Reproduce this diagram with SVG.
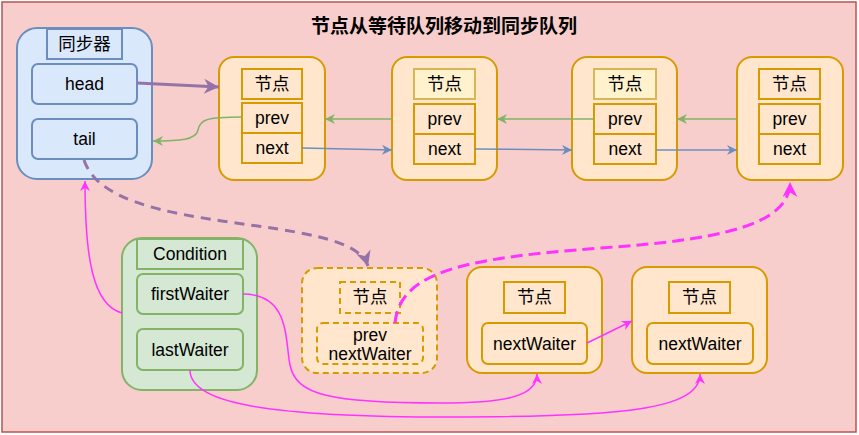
<svg xmlns="http://www.w3.org/2000/svg" width="859" height="435" viewBox="0 0 859 435">
<style>
text{font-family:"Liberation Sans",Arial,"Noto Sans CJK SC",sans-serif;font-size:17.5px;fill:#000;text-anchor:middle;dominant-baseline:central}
.title{font-size:19px;font-weight:bold}
.blue{fill:#dae8fc;stroke:#6c8ebf;stroke-width:2}
.green{fill:#d5e8d4;stroke:#82b366;stroke-width:2}
.org{fill:#ffe6cc;stroke:#d79b00;stroke-width:2}
.yel{fill:#fff2cc;stroke:#d6b656;stroke-width:2}
.dash{stroke-dasharray:6 4}
.e{fill:none}
</style>
<defs>
<marker id="mg" viewBox="0 0 10 10" refX="10" refY="5" markerWidth="13" markerHeight="10" markerUnits="userSpaceOnUse" orient="auto"><path d="M0,0 L10,5 L0,10 L3,5 z" fill="#82b366"/></marker>
<marker id="mb" viewBox="0 0 10 10" refX="10" refY="5" markerWidth="13" markerHeight="10" markerUnits="userSpaceOnUse" orient="auto"><path d="M0,0 L10,5 L0,10 L3,5 z" fill="#6c8ebf"/></marker>
<marker id="mp" viewBox="0 0 10 10" refX="10" refY="5" markerWidth="19" markerHeight="15" markerUnits="userSpaceOnUse" orient="auto"><path d="M0,0 L10,5 L0,10 L3,5 z" fill="#9673a6"/></marker>
<marker id="mm" viewBox="0 0 10 10" refX="10" refY="5" markerWidth="13" markerHeight="10" markerUnits="userSpaceOnUse" orient="auto"><path d="M0,0 L10,5 L0,10 L3,5 z" fill="#ff33ff"/></marker>
<marker id="mm2" viewBox="0 0 10 10" refX="10" refY="5" markerWidth="18" markerHeight="15" markerUnits="userSpaceOnUse" orient="auto"><path d="M0,0 L10,5 L0,10 L3,5 z" fill="#ff33ff"/></marker>
</defs>
<rect x="0" y="0" width="859" height="435" fill="#ffffff"/>
<rect x="2" y="2" width="854" height="430" fill="#f8cecc" stroke="#b85450" stroke-width="1.5"/>
<text class="title" x="444" y="26">节点从等待队列移动到同步队列</text>

<g id="sync">
<rect class="blue" x="17" y="28" width="135" height="151" rx="20"/>
<rect class="blue" x="47" y="29" width="75" height="30"/>
<text x="84.5" y="44">同步器</text>
<rect class="blue" x="32" y="64" width="105" height="40" rx="6"/>
<text x="84.5" y="84">head</text>
<rect class="blue" x="32" y="119" width="105" height="40" rx="6"/>
<text x="84.5" y="139">tail</text>
</g>

<g id="node1">
<rect class="org" x="219" y="57" width="106" height="123" rx="15"/>
<rect class="org" x="242" y="69" width="60" height="30"/>
<text x="272" y="84">节点</text>
<rect class="org" x="242" y="103" width="60" height="30"/>
<text x="272" y="118">prev</text>
<rect class="org" x="242" y="133" width="60" height="30"/>
<text x="272" y="148">next</text>
</g>
<g id="node2">
<rect class="org" x="392" y="57" width="105" height="123" rx="15"/>
<rect class="yel" x="414" y="69" width="61" height="30"/>
<text x="444.5" y="84">节点</text>
<rect class="org" x="414" y="104" width="61" height="30"/>
<text x="444.5" y="119">prev</text>
<rect class="org" x="414" y="134" width="61" height="30"/>
<text x="444.5" y="149">next</text>
</g>
<g id="node3">
<rect class="org" x="572" y="57" width="105" height="123" rx="15"/>
<rect class="yel" x="594" y="69" width="62" height="30"/>
<text x="625" y="84">节点</text>
<rect class="org" x="594" y="104" width="62" height="30"/>
<text x="625" y="119">prev</text>
<rect class="org" x="594" y="134" width="62" height="30"/>
<text x="625" y="149">next</text>
</g>
<g id="node4">
<rect class="org" x="737" y="57" width="106" height="123" rx="15"/>
<rect class="org" x="759" y="69" width="61" height="30"/>
<text x="789.5" y="84">节点</text>
<rect class="org" x="759" y="104" width="61" height="30"/>
<text x="789.5" y="119">prev</text>
<rect class="org" x="759" y="134" width="61" height="30"/>
<text x="789.5" y="149">next</text>
</g>

<g id="condition">
<rect class="green" x="122" y="238" width="135" height="152" rx="20"/>
<rect class="green" x="137" y="239" width="106" height="30"/>
<text x="190" y="254">Condition</text>
<rect class="green" x="137" y="274" width="106" height="40" rx="6"/>
<text x="190" y="294">firstWaiter</text>
<rect class="green" x="137" y="329" width="106" height="41" rx="6"/>
<text x="190" y="350">lastWaiter</text>
</g>

<g id="movingNode">
<rect class="org dash" x="302" y="268" width="135" height="105" rx="15"/>
<rect class="org dash" x="340" y="282" width="60" height="31"/>
<text x="370" y="297">节点</text>
<rect class="org dash" x="317" y="323" width="106" height="41" rx="6"/>
<text x="370" y="335">prev</text>
<text x="370" y="354">nextWaiter</text>
</g>

<g id="waiter1">
<rect class="org" x="467" y="267" width="135" height="106" rx="15"/>
<rect class="org" x="504" y="282" width="61" height="31"/>
<text x="534.5" y="297">节点</text>
<rect class="org" x="482" y="323" width="105" height="41" rx="6"/>
<text x="534.5" y="344">nextWaiter</text>
</g>
<g id="waiter2">
<rect class="org" x="632" y="267" width="135" height="106" rx="15"/>
<rect class="org" x="669" y="282" width="61" height="31"/>
<text x="699.5" y="297">节点</text>
<rect class="org" x="647" y="323" width="106" height="41" rx="6"/>
<text x="700" y="344">nextWaiter</text>
</g>

<g id="connectors" class="e">
<path d="M137,83 L219,87" stroke="#9673a6" stroke-width="3" marker-end="url(#mp)"/>
<path d="M242,117 C205,117 200,120 198,130 C196,140 180,141 153,141" stroke="#82b366" stroke-width="1.5" marker-end="url(#mg)"/>
<path d="M302,148 L392,150" stroke="#6c8ebf" stroke-width="1.5" marker-end="url(#mb)"/>
<path d="M392,119 L325,119" stroke="#82b366" stroke-width="1.5" marker-end="url(#mg)"/>
<path d="M475,149 L572,150" stroke="#6c8ebf" stroke-width="1.5" marker-end="url(#mb)"/>
<path d="M594,119 L497,119" stroke="#82b366" stroke-width="1.5" marker-end="url(#mg)"/>
<path d="M656,150 L737,150" stroke="#6c8ebf" stroke-width="1.5" marker-end="url(#mb)"/>
<path d="M737,119 L677,119" stroke="#82b366" stroke-width="1.5" marker-end="url(#mg)"/>
<path d="M84,160 C110,240 350,210 368,266" stroke="#9673a6" stroke-width="3" stroke-dasharray="10 7" marker-end="url(#mp)"/>
<path d="M122,313 C92,305 85,255 85,181" stroke="#ff33ff" stroke-width="1.5" marker-end="url(#mm)"/>
<path d="M243,294 C290,294 285,340 290,365 C296,395 330,403 440,403 C500,403 537,398 537,374" stroke="#ff33ff" stroke-width="1.5" marker-end="url(#mm)"/>
<path d="M190,370 C190,402 260,417 450,417 C620,417 700,410 700,374" stroke="#ff33ff" stroke-width="1.5" marker-end="url(#mm)"/>
<path d="M587,343 L632,321" stroke="#ff33ff" stroke-width="1.5" marker-end="url(#mm)"/>
<path d="M395,323 C400,270 470,258 600,248 C720,240 790,225 790,182" stroke="#ff33ff" stroke-width="3" stroke-dasharray="12 6" marker-end="url(#mm2)"/>
</g>
</svg>
